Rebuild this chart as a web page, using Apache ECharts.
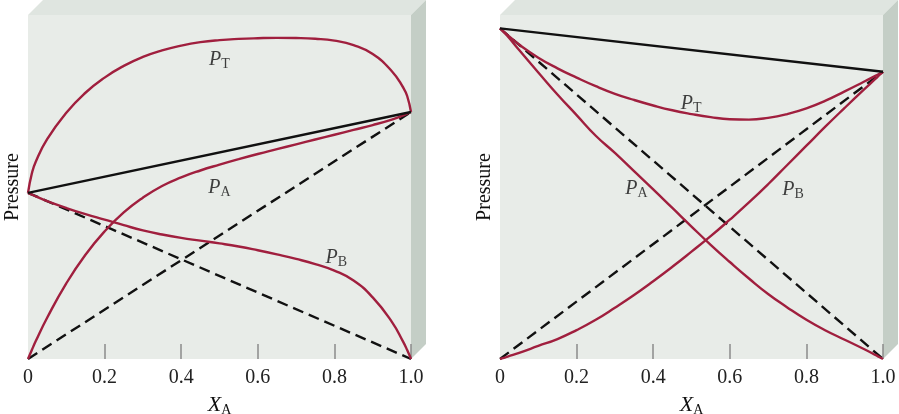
<!DOCTYPE html>
<html><head><meta charset="utf-8">
<script src="https://cdn.jsdelivr.net/npm/echarts@6/dist/echarts.min.js"></script>
<style>html,body{margin:0;padding:0;background:#fff}#c{width:899px;height:414px}</style>
</head><body><div id="c"></div>
<script>
// mole fraction of A (x axis)
const xs = [0, 0.01, 0.02, 0.05, 0.1, 0.15, 0.2, 0.25, 0.3, 0.35, 0.4, 0.45, 0.5, 0.55, 0.6, 0.65, 0.7, 0.75, 0.8, 0.85, 0.9, 0.95, 0.98, 0.99, 1.0];
const xTickValues = [0.2, 0.4, 0.6, 0.8, 1.0];

// Left panel (positive deviation): pressures at X_A = 0 and X_A = 1
const leftStart = 48.3, leftEnd = 71.8;
const leftPT = [48.3, 53.9, 57.3, 63.9, 71.6, 77.4, 81.8, 85.2, 87.8, 89.7, 91.1, 92.1, 92.7, 93.05, 93.25, 93.35, 93.3, 93.1, 92.55, 91.25, 88.65, 83.65, 78.85, 76.45, 71.8];
const leftPA = [0, 2.6, 5.15, 12.0, 22.0, 30.3, 37.1, 42.6, 46.9, 50.3, 52.8, 54.8, 56.5, 58.1, 59.6, 61.0, 62.4, 63.8, 65.2, 66.6, 68.0, 69.6, 70.8, 71.3, 71.8];
const leftPB = [48.3, 47.8, 47.3, 45.9, 43.9, 42.1, 40.5, 38.9, 37.4, 36.2, 35.2, 34.4, 33.6, 32.7, 31.6, 30.4, 29.1, 27.6, 25.7, 22.8, 17.9, 10.8, 4.9, 2.6, 0];

// Right panel (negative deviation): pressures at X_A = 0 and X_A = 1
const rightStart = 96.1, rightEnd = 83.5;
const rightPT = [96.1, 95.1, 94.15, 91.4, 87.6, 84.5, 81.8, 79.3, 77.1, 75.3, 73.7, 72.3, 71.2, 70.3, 69.7, 69.6, 70.1, 71.2, 72.85, 75.1, 77.8, 80.6, 82.3, 82.9, 83.5];
const rightPA = [96.1, 95.0, 93.8, 89.8, 83.3, 76.9, 70.9, 64.9, 59.9, 54.6, 49.3, 43.9, 38.5, 33.2, 28.2, 23.4, 18.9, 15.0, 11.4, 8.3, 5.6, 2.9, 1.2, 0.6, 0];
const rightPB = [0, 0.3, 0.7, 1.8, 3.8, 5.8, 8.4, 11.4, 14.9, 18.6, 22.6, 26.8, 31.2, 35.7, 40.5, 45.5, 50.8, 56.4, 62.0, 67.6, 73.0, 78.3, 81.4, 82.5, 83.5];

// curve annotations (subscript, x, y in data units)
const labelSubs = ['T', 'A', 'B'];
const leftLabelX = [0.50, 0.50, 0.805];
const leftLabelY = [86.9, 49.9, 29.5];
const rightLabelX = [0.499, 0.356, 0.765];
const rightLabelY = [74.3, 49.5, 49.1];

const RED = '#a01f3e';
const SERIF = '"Liberation Serif", "DejaVu Serif", serif';
const zip = (a, b) => a.map((v, i) => [v, b[i]]);

function panelSeries(g, PT, PA, PB, y0, y1, lx, ly) {
  const base = { xAxisIndex: g, yAxisIndex: g, type: 'line', symbol: 'none', silent: true };
  const red = Object.assign({}, base, { smooth: 0.5, lineStyle: { color: RED, width: 2.4 } });
  return [
    Object.assign({}, base, { data: [[0, 0], [1, y1]], lineStyle: { color: '#111', width: 2.4, type: [11, 6] } }),
    Object.assign({}, base, { data: [[0, y0], [1, 0]], lineStyle: { color: '#111', width: 2.4, type: [11, 6] } }),
    Object.assign({}, red, { data: zip(xs, PT) }),
    Object.assign({}, red, { data: zip(xs, PA) }),
    Object.assign({}, red, { data: zip(xs, PB) }),
    Object.assign({}, base, { data: [[0, y0], [1, y1]], lineStyle: { color: '#111', width: 2.4 } }),
    {
      type: 'scatter', xAxisIndex: g, yAxisIndex: g, symbolSize: 0, silent: true,
      data: lx.map((x, i) => ({ value: [x, ly[i]], sub: labelSubs[i] })),
      label: {
        show: true, position: 'inside',
        formatter: p => '{p|P}{s|' + p.data.sub + '}',
        rich: {
          p: { fontFamily: SERIF, fontStyle: 'italic', fontSize: 20, color: '#111', lineHeight: 22 },
          s: { fontFamily: SERIF, fontSize: 14, color: '#111', padding: [9, 0, 0, 0] }
        }
      }
    }
  ];
}

const gridW = 383, gridH = 344;
const grids = [
  { left: 28, top: 15, width: gridW, height: gridH, show: true, backgroundColor: '#e8ece8', borderWidth: 0, containLabel: false, outerBoundsMode: 'none' },
  { left: 500, top: 15, width: gridW, height: gridH, show: true, backgroundColor: '#e8ece8', borderWidth: 0, containLabel: false, outerBoundsMode: 'none' }
];
function xAxis(g) {
  return {
    type: 'value', gridIndex: g, min: 0, max: 1, interval: 0.2,
    axisLine: { show: false },
    axisTick: { show: true, inside: true, length: 15, customValues: xTickValues, lineStyle: { color: '#8a8a8a', width: 1.5 } },
    splitLine: { show: false },
    axisLabel: {
      margin: 9, fontFamily: SERIF, fontSize: 20, color: '#222',
      formatter: v => v === 0 ? '0' : v.toFixed(1)
    },
    name: '{x|X}{s|A}', nameLocation: 'middle', nameGap: 35,
    nameTextStyle: {
      rich: {
        x: { fontFamily: SERIF, fontStyle: 'italic', fontSize: 22, color: '#111', lineHeight: 22 },
        s: { fontFamily: SERIF, fontSize: 14, color: '#111', padding: [9, 0, 0, 0] }
      }
    }
  };
}
function yAxis(g) {
  return {
    type: 'value', gridIndex: g, min: 0, max: 100,
    axisLine: { show: false }, axisTick: { show: false }, axisLabel: { show: false }, splitLine: { show: false },
    name: 'Pressure', nameLocation: 'middle', nameRotate: 90, nameGap: 5,
    nameTextStyle: { fontFamily: SERIF, fontSize: 20, color: '#111' }
  };
}

const chart = echarts.init(document.getElementById('c'), null, { renderer: 'canvas' });
chart.setOption({
  animation: false,
  backgroundColor: '#ffffff',
  grid: grids,
  xAxis: [xAxis(0), xAxis(1)],
  yAxis: [yAxis(0), yAxis(1)],
  series: [].concat(
    panelSeries(0, leftPT, leftPA, leftPB, leftStart, leftEnd, leftLabelX, leftLabelY),
    panelSeries(1, rightPT, rightPA, rightPB, rightStart, rightEnd, rightLabelX, rightLabelY)
  )
});

// 3D box faces (top and right side) derived from each grid's rectangle
const depth = 15;
const faces = [];
[0, 1].forEach(g => {
  const p0 = chart.convertToPixel({ gridIndex: g }, [0, 0]);
  const p1 = chart.convertToPixel({ gridIndex: g }, [1, 100]);
  const L = p0[0], R = p1[0], B = p0[1], T = p1[1];
  faces.push({ type: 'polygon', silent: true, z: -1,
    shape: { points: [[L, T], [L + depth, T - depth], [R + depth, T - depth], [R, T]] },
    style: { fill: '#dfe5e0' } });
  faces.push({ type: 'polygon', silent: true, z: -1,
    shape: { points: [[R, T], [R + depth, T - depth], [R + depth, B - depth], [R, B]] },
    style: { fill: '#c4cec6' } });
});
chart.setOption({ graphic: faces });
</script>
</body></html>
